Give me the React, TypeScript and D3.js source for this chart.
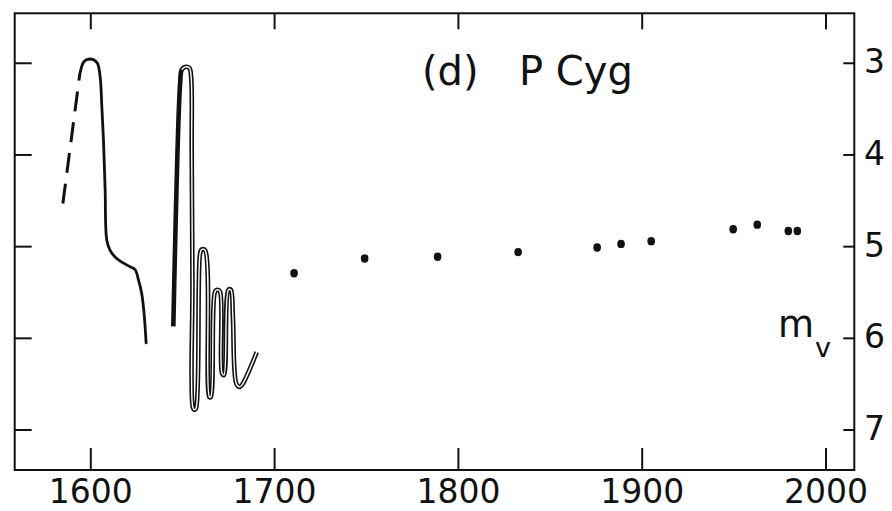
import React from "react";
import * as d3 from "d3";

const W = 892;
const H = 511;

const xTicks = [1600, 1700, 1800, 1900, 2000];
const yTicks = [3, 4, 5, 6, 7];

// Dashed (uncertain) rise before 1600
const dashYears = [1584.8, 1594.0];
const dashMags = [4.53, 3.12];

// First outburst (c. 1600)
const earlyYears = [1594.0, 1596.0, 1597.8, 1601.4, 1603.6, 1605.1, 1606.0, 1606.9, 1607.8, 1608.7, 1610.5, 1614.1, 1621.4, 1624.1, 1625.9, 1627.7, 1629.0, 1630.1];
const earlyMags = [3.12, 2.99, 2.96, 2.96, 3.0, 3.15, 3.47, 3.84, 4.38, 4.93, 5.04, 5.13, 5.22, 5.25, 5.36, 5.51, 5.73, 6.05];

// Second outburst and oscillations (c. 1655-1690)
const oscYears = [1644.9, 1648.6, 1649.5, 1651.3, 1653.6, 1654.6, 1654.9, 1655.3, 1655.5, 1656.4, 1657.3, 1659.5, 1660.4, 1662.2, 1664.5, 1665.3, 1667.6, 1668.9, 1670.3, 1671.4, 1672.5, 1674.9, 1676.2, 1677.3, 1679.1, 1680.8, 1682.2, 1690.3];
const oscMags = [5.87, 3.22, 3.07, 3.04, 3.05, 3.15, 3.95, 5.4, 6.75, 6.78, 6.76, 5.07, 5.03, 5.04, 6.64, 6.64, 5.49, 5.47, 5.49, 6.38, 6.4, 5.47, 5.47, 5.76, 6.49, 6.53, 6.51, 6.15];

// Later visual estimates
const dotYears = [1710.6, 1749.0, 1788.7, 1832.5, 1875.5, 1888.5, 1904.9, 1949.5, 1962.6, 1979.5, 1984.4];
const dotMags = [5.29, 5.13, 5.11, 5.06, 5.01, 4.97, 4.94, 4.81, 4.76, 4.83, 4.83];

const FONT = "'DejaVu Sans', Verdana, sans-serif";

export default function App() {
  const x = d3.scaleLinear().domain([1558.6, 2015.4]).range([14.7, 854.3]);
  const y = d3.scaleLinear().domain([2.455, 7.436]).range([13.3, 470]);

  const [x0, x1] = x.range();
  const [y0, y1] = y.range();

  const line = d3
    .line<[number, number]>()
    .x((d) => x(d[0]))
    .y((d) => y(d[1]))
    .curve(d3.curveCatmullRom.alpha(0.5));

  const straight = d3
    .line<[number, number]>()
    .x((d) => x(d[0]))
    .y((d) => y(d[1]));

  const dashPts = dashYears.map((v, i) => [v, dashMags[i]] as [number, number]);
  const earlyPts = earlyYears.map((v, i) => [v, earlyMags[i]] as [number, number]);
  const oscPts = oscYears.map((v, i) => [v, oscMags[i]] as [number, number]);

  return (
    <svg
      width={W}
      height={H}
      style={{ position: "absolute", left: 0, top: 0, background: "#fff" }}
    >
      <rect x={0} y={0} width={W} height={H} fill="#fff" />
      {/* frame */}
      <rect x={x0} y={y0} width={x1 - x0} height={y1 - y0} fill="none" stroke="#111" strokeWidth={2} />
      {/* x ticks bottom & top */}
      {xTicks.map((t) => (
        <g key={"xt" + t}>
          <line x1={x(t)} x2={x(t)} y1={y1} y2={y1 - 22} stroke="#111" strokeWidth={2} />
          <line x1={x(t)} x2={x(t)} y1={y0} y2={y0 + 16} stroke="#111" strokeWidth={2} />
          <text x={x(t)} y={503} textAnchor="middle" fontFamily={FONT} fontSize={33} fill="#111">
            {t}
          </text>
        </g>
      ))}
      {/* y ticks left & right */}
      {yTicks.map((t) => (
        <g key={"yt" + t}>
          <line x1={x0} x2={x0 + 17} y1={y(t)} y2={y(t)} stroke="#111" strokeWidth={2} />
          <line x1={x1} x2={x1 - 11} y1={y(t)} y2={y(t)} stroke="#111" strokeWidth={2} />
          <text x={864} y={y(t) + 10} textAnchor="start" fontFamily={FONT} fontSize={33} fill="#111">
            {t}
          </text>
        </g>
      ))}
      {/* dashed early segment */}
      <path d={straight(dashPts) || ""} fill="none" stroke="#111" strokeWidth={3} strokeDasharray="20 11" />
      {/* early outburst */}
      <path d={line(earlyPts) || ""} fill="none" stroke="#111" strokeWidth={2.8} strokeLinejoin="round" strokeLinecap="round" />
      {/* oscillations: hollow stroke */}
      <path d={line(oscPts) || ""} fill="none" stroke="#111" strokeWidth={4.6} strokeLinejoin="round" />
      <path d={line(oscPts.slice(2)) || ""} fill="none" stroke="#fff" strokeWidth={1.4} strokeLinejoin="round" />
      {/* dots */}
      {dotYears.map((v, i) => (
        <ellipse key={"d" + i} cx={x(v)} cy={y(dotMags[i])} rx={3.8} ry={4.2} fill="#111" />
      ))}
      {/* title */}
      <text x={422} y={85} fontFamily={FONT} fontSize={40} fill="#111">
        (d)
      </text>
      <text x={519} y={85} fontFamily={FONT} fontSize={40} fill="#111">
        P Cyg
      </text>
      {/* m_v label */}
      <text x={778} y={337} fontFamily={FONT} fontSize={37} fill="#111">
        m
      </text>
      <text x={815} y={357} fontFamily={FONT} fontSize={27} fill="#111">
        v
      </text>
    </svg>
  );
}
